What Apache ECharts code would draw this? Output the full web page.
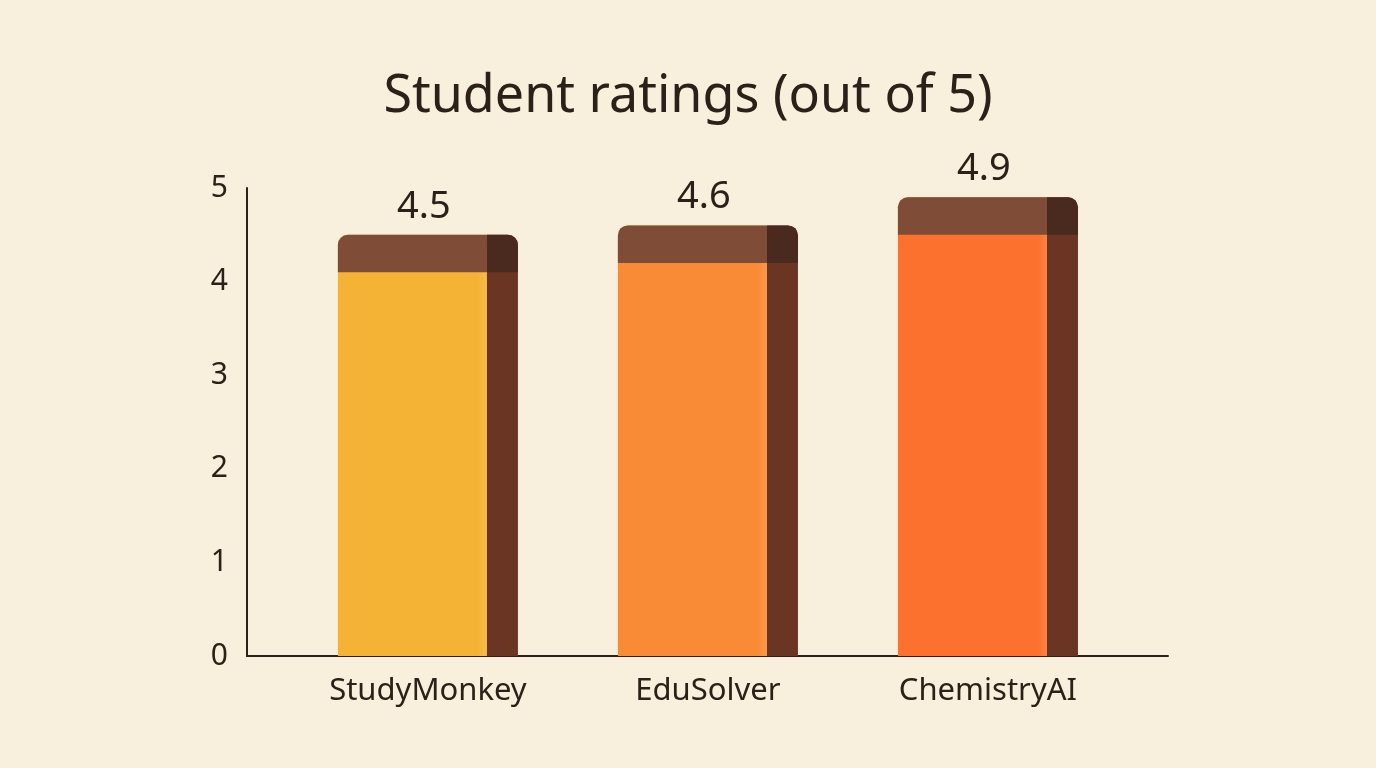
<!DOCTYPE html>
<html lang="en">
<head>
    <meta charset="UTF-8">
    <title>Student ratings</title>
    <script src="https://cdn.jsdelivr.net/npm/echarts@6/dist/echarts.min.js"></script>
    <style>
        html, body { margin: 0; padding: 0; background: #f8f0dc; }
        #chart { width: 1376px; height: 768px; }
    </style>
</head>
<body>
    <div id="chart"></div>
    <script>
        // data
        const categories = ['StudyMonkey', 'EduSolver', 'ChemistryAI'];
        const ratings = [4.5, 4.6, 4.9];
        const frontColors = ['#f5b335', '#f98b36', '#fb712d'];
        const yTicks = [0, 1, 2, 3, 4, 5];

        const ink = '#2b2118';
        const font = 'Noto Sans';

        const chart = echarts.init(document.getElementById('chart'));
        chart.setOption({
            backgroundColor: '#f8f0dc',
            title: {
                text: 'Student ratings (out of 5)',
                left: 'center',
                top: 66,
                textStyle: { fontFamily: font, fontSize: 52, fontWeight: 'normal', color: ink }
            },
            grid: { left: 247, right: 208, top: 188, bottom: 112 },
            xAxis: {
                type: 'value',
                min: -0.646,
                max: 2.643,
                splitLine: { show: false },
                axisTick: { show: false },
                axisLine: { show: true, lineStyle: { color: ink, width: 2 } },
                axisLabel: {
                    customValues: [0, 1, 2],
                    formatter: v => categories[Math.round(v)] || '',
                    margin: 20,
                    fontFamily: font,
                    fontSize: 31,
                    color: ink
                }
            },
            yAxis: {
                type: 'value',
                min: 0,
                max: 5,
                interval: 1,
                splitLine: { show: false },
                axisTick: { show: false },
                axisLine: { show: true, onZero: false, lineStyle: { color: ink, width: 2 } },
                axisLabel: {
                    customValues: yTicks,
                    margin: 19,
                    fontFamily: font,
                    fontSize: 30,
                    color: ink
                }
            },
            series: [{
                type: 'custom',
                data: ratings.map((v, i) => [i, v]),
                renderItem: function (params, api) {
                    const i = api.value(0);
                    const v = api.value(1);
                    const top = api.coord([i, v]);
                    const base = api.coord([i, 0]);
                    const unit = api.size([1, 0])[0];
                    const w = unit * 0.643;
                    const fw = w * 0.828;
                    const sw = w - fw;
                    const left = top[0] - w / 2;
                    const h = base[1] - top[1];
                    const capH = api.size([0, 0.4])[1];
                    const r = 10;
                    const c = frontColors[params.dataIndex];
                    return {
                        type: 'group',
                        children: [
                            {
                                type: 'rect',
                                shape: { x: left, y: top[1], width: fw, height: h, r: [r, 0, 0, 0] },
                                style: {
                                    fill: new echarts.graphic.LinearGradient(0, 0, 1, 0, [
                                        { offset: 0, color: c },
                                        { offset: 0.94, color: c },
                                        { offset: 1, color: echarts.color.lift(c, 0.12) }
                                    ])
                                }
                            },
                            {
                                type: 'rect',
                                shape: { x: left + fw, y: top[1], width: sw, height: h, r: [0, r, 0, 0] },
                                style: { fill: '#6a3523' }
                            },
                            {
                                type: 'rect',
                                shape: { x: left, y: top[1], width: fw, height: capH, r: [r, 0, 0, 0] },
                                style: { fill: '#7e4c37' }
                            },
                            {
                                type: 'rect',
                                shape: { x: left + fw, y: top[1], width: sw, height: capH, r: [0, r, 0, 0] },
                                style: { fill: '#4a2a1e' }
                            },
                            {
                                type: 'text',
                                style: {
                                    text: String(v),
                                    x: top[0] - 4,
                                    y: top[1] - 28,
                                    align: 'center',
                                    verticalAlign: 'middle',
                                    fontFamily: font,
                                    fontSize: 38,
                                    fill: ink
                                }
                            }
                        ]
                    };
                }
            }]
        });
    </script>
</body>
</html>
